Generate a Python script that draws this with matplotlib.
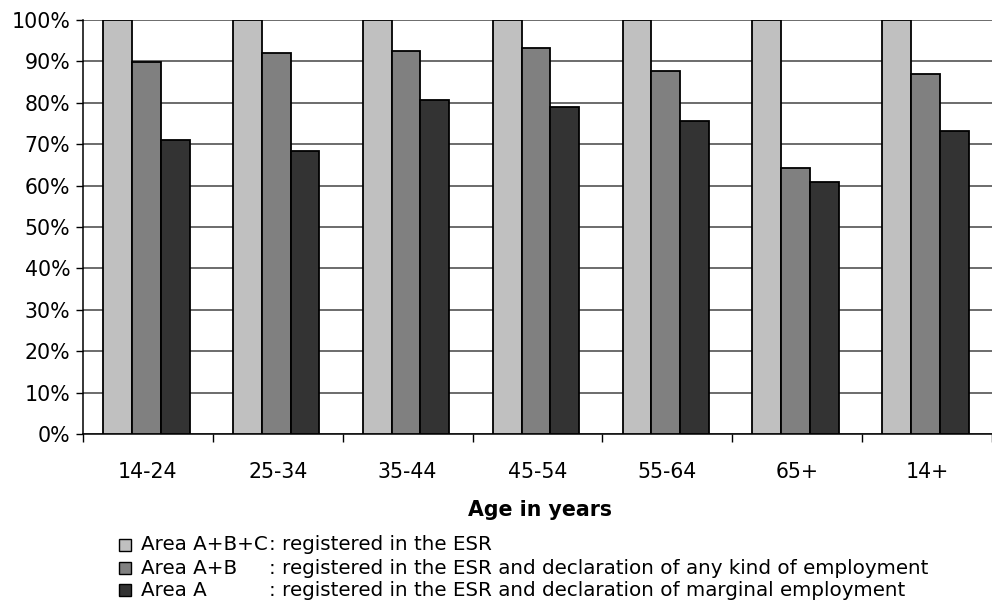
import matplotlib.pyplot as plt
import numpy as np
from matplotlib.patches import Rectangle

# data
groups = ["14-24", "25-34", "35-44", "45-54", "55-64", "65+", "14+"]
area_abc = [100, 100, 100, 100, 100, 100, 100]
area_ab = [89.8, 92.1, 92.4, 93.3, 87.8, 64.3, 87.0]
area_a = [71.0, 68.4, 80.7, 79.0, 75.7, 60.9, 73.1]

series = [area_abc, area_ab, area_a]
colors = ["#c0c0c0", "#808080", "#333333"]
names = ["Area A+B+C", "Area A+B", "Area A"]
texts = [": registered in the ESR",
         ": registered in the ESR and declaration of any kind of employment",
         ": registered in the ESR and declaration of marginal employment"]

plt.rcParams["font.family"] = "DejaVu Sans"
fs = 14.8

fig = plt.figure(figsize=(9.92, 6.10), dpi=100)
ax = fig.add_axes([83 / 992, 1 - 434 / 610, 909 / 992, 414 / 610])

x = np.arange(len(groups))
w = 0.222
for i, (vals, c) in enumerate(zip(series, colors)):
    ax.bar(x + (i - 1) * w - 0.012, vals, width=w, color=c,
           edgecolor="black", linewidth=1.3, zorder=3)

ax.set_xlim(-0.5, len(groups) - 0.5)
ax.set_ylim(0, 100)
ax.set_yticks(np.arange(0, 101, 10))
ax.set_yticklabels(["{}%".format(v) for v in range(0, 101, 10)], fontsize=fs)
ax.yaxis.grid(True, color="#444444", linewidth=1.1, zorder=0)
ax.set_axisbelow(True)

ax.set_xticks(np.arange(-0.5, len(groups), 1))
ax.set_xticklabels([])
ax.set_xticks(x, minor=True)
ax.set_xticklabels(groups, minor=True, fontsize=fs)
ax.tick_params(axis="x", which="minor", length=0, pad=20)
ax.tick_params(axis="x", which="major", length=6, direction="out", width=1)
ax.tick_params(axis="y", length=5, width=1, pad=4)

for s in ["top", "right"]:
    ax.spines[s].set_visible(False)
ax.spines["left"].set_linewidth(1.1)
ax.spines["bottom"].set_linewidth(1.1)

fig.text(540 / 992, 1 - 510 / 610, "Age in years", ha="center", va="center",
         fontsize=fs, fontweight="bold")

# legend drawn by hand so the colons line up
lfs = 14.3
rows_y = [545, 568, 590]
for yy, c, n, t in zip(rows_y, colors, names, texts):
    fig.patches.append(Rectangle((119 / 992, 1 - (yy + 6) / 610), 12 / 992, 12 / 610,
                                 transform=fig.transFigure, facecolor=c,
                                 edgecolor="black", linewidth=1))
    fig.text(141 / 992, 1 - yy / 610, n, ha="left", va="center", fontsize=lfs)
    fig.text(269 / 992, 1 - yy / 610, t, ha="left", va="center", fontsize=lfs)

fig.savefig("out.png", dpi=100)
